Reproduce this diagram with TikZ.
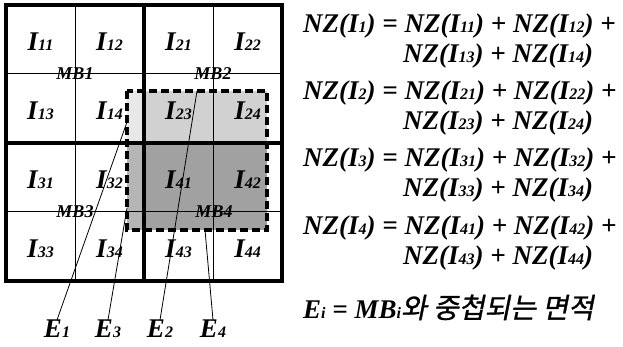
\documentclass[tikz,border=0pt]{standalone}
\usepackage{fontspec}
\setmainfont{Liberation Serif}
\newfontfamily\korfont[FakeSlant=0.2,FakeBold=1]{Noto Sans CJK KR}
\usetikzlibrary{positioning}
\definecolor{ovA}{gray}{0.91}
\definecolor{ovB}{gray}{0.82}
\definecolor{ovC}{gray}{0.71}
\definecolor{ovD}{gray}{0.63}
\newcommand{\idx}[1]{{\fontsize{16}{16}\selectfont #1}}

\begin{document}
\begin{tikzpicture}[x=1pt,y=-1pt,
  lbl/.style={font=\fontsize{27}{27}\selectfont\bfseries\itshape,inner sep=0pt},
  mb/.style={font=\fontsize{18}{18}\selectfont\bfseries\itshape,inner sep=0pt},
  eq/.style={font=\fontsize{27}{27}\selectfont\bfseries\itshape,anchor=base west,inner sep=0pt},
  thinln/.style={line width=1pt},
  thickln/.style={line width=4pt}]
\useasboundingbox (0,0) rectangle (623,347);
% overlap of the moved block
\fill[ovA] (127,91) rectangle (144,143);
\fill[ovB] (144,91) rectangle (267,143);
\fill[ovC] (127,143) rectangle (144,230);
\fill[ovD] (144,143) rectangle (267,230);
\draw[thinln] (75,5)--(75,281) (213,5)--(213,281) (6,74)--(282,74) (6,212)--(282,212);
\draw[thickln] (144,5)--(144,281) (6,143)--(282,143);
\draw[thickln] (6,5) rectangle (282,281);
\draw[line width=3.5pt,dash pattern=on 8pt off 4pt] (127,91) rectangle (267,230);
\foreach \lab [count=\i from 0] in {11,12,21,22,13,14,23,24,31,32,41,42,33,34,43,44}{
  \pgfmathsetmacro\cx{40.5+69*mod(\i,4)}
  \pgfmathsetmacro\cy{41.5+69*int(\i/4)}
  \node[lbl] (i\lab) at (\cx,\cy) {I\idx{\lab}};
}
\node[mb] (mb1) at (75,74) {MB1};
\node[mb] (mb2) at (213,74) {MB2};
\node[mb] (mb3) at (75,212) {MB3};
\node[mb] (mb4) at (214,212) {MB4};
% E labels and their lines
\node[lbl] (e1) at (57,329) {E\idx{1}};
\node[lbl] (e3) at (108,329) {E\idx{3}};
\node[lbl] (e2) at (160,329) {E\idx{2}};
\node[lbl] (e4) at (213,329) {E\idx{4}};
\coordinate (d1) at (127,122);
\coordinate (d3) at (127,208);
\coordinate (d2) at (197,91);
\coordinate (d4) at (205,230);
\draw[line width=0.8pt] (e1.north) -- (d1);
\draw[line width=0.8pt] (e3.north) -- (d3);
\draw[line width=0.8pt] (e2.north) -- (d2);
\draw[line width=0.8pt] (e4.north) -- (d4);
% equations
\node[eq] (nz1) at (303,33) {NZ(I\idx{1}) = NZ(I\idx{11}) + NZ(I\idx{12}) +};
\node[eq] (nz1b) at (403,63) {NZ(I\idx{13}) + NZ(I\idx{14})};
\node[eq] (nz2) at (303,100) {NZ(I\idx{2}) = NZ(I\idx{21}) + NZ(I\idx{22}) +};
\node[eq] (nz2b) at (403,130) {NZ(I\idx{23}) + NZ(I\idx{24})};
\node[eq] (nz3) at (303,167) {NZ(I\idx{3}) = NZ(I\idx{31}) + NZ(I\idx{32}) +};
\node[eq] (nz3b) at (403,197) {NZ(I\idx{33}) + NZ(I\idx{34})};
\node[eq] (nz4) at (303,234) {NZ(I\idx{4}) = NZ(I\idx{41}) + NZ(I\idx{42}) +};
\node[eq] (nz4b) at (403,264) {NZ(I\idx{43}) + NZ(I\idx{44})};
\node[eq] (def) at (303,318) {E\idx{i} = MB\idx{i}{\korfont\mdseries\upshape\fontsize{28}{28}\selectfont 와 중첩되는 면적}};
\end{tikzpicture}
\end{document}
